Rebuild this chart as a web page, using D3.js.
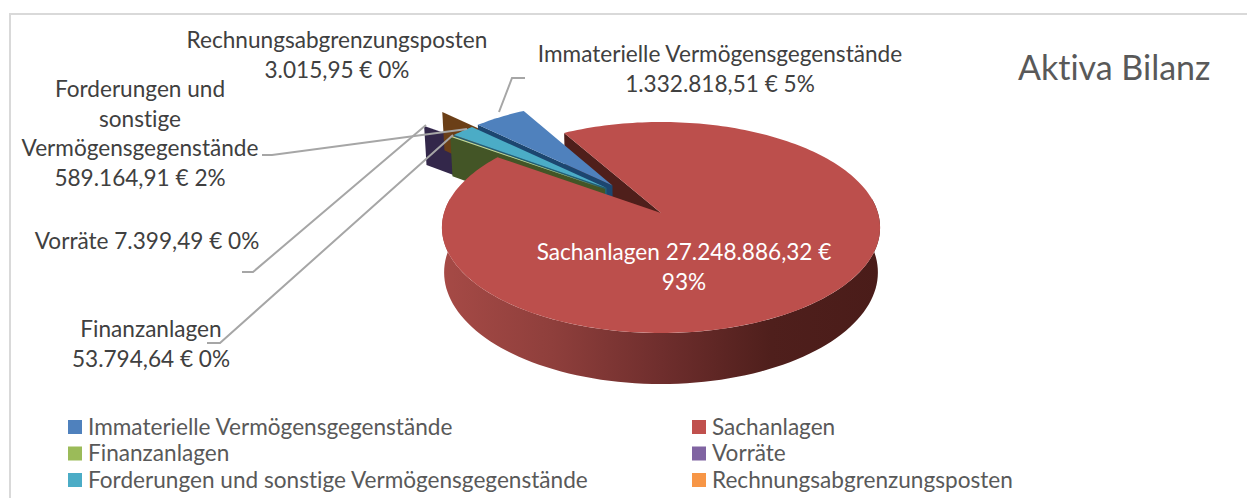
<!DOCTYPE html>
<html lang="de">
<head>
    <meta charset="UTF-8">
    <title>Aktiva Bilanz</title>
    <script src="https://d3js.org/d3.v7.min.js"></script>
    <style>
        html, body { margin: 0; background: #fff; }
        svg { display: block; }
        text { font-family: Lato, "Open Sans", sans-serif; font-variant-ligatures: none; }
    </style>
</head>
<body>
    <div id="chart"></div>

    <script>
        var categories = [
            "Immaterielle Vermögensgegenstände",
            "Sachanlagen",
            "Finanzanlagen",
            "Vorräte",
            "Forderungen und sonstige Vermögensgegenstände",
            "Rechnungsabgrenzungsposten"
        ];
        var values = [1332818.51, 27248886.32, 53794.64, 7399.49, 589164.91, 3015.95];
        var title = "Aktiva Bilanz";

        var legendColors = ["#4f81bd", "#c0504d", "#9bbb59", "#8064a2", "#4bacc6", "#f79646"];
        var topColors = ["#4f81bd", "#bc4f4c", "#c9d98f", "#5f4a80", "#4bacc6", "#8a5220"];
        var wallColors = ["#1c4670", "#4f1f1b", "#435526", "#33274a", "#235f70", "#6b3f17"];
        var explosion = [0.18, 0.18, 0.18, 0.38, 0.18, 0.44];

        var width = 1247;
        var height = 498;
        var fontSize = 22.6;

        // perspective disc: origin is the tip of the big slice, radius 1
        var originX = 661, originY = 213, scaleU = 217, scaleV = 103.5, persp = 0.1374, depth = 44;
        function project(u, v) {
            var w = 1 - persp * v;
            return [originX + scaleU * u / w, originY + scaleV * v / w];
        }
        function lower(u, v) {
            var p = project(u, v);
            // bottom face is further away, so slightly narrower
            return [originX + (p[0] - originX) * 0.99, p[1] + depth / (1 - persp * v)];
        }

        var pie = d3.pie().sort(null).startAngle(-0.8095).endAngle(-0.8095 + 2 * Math.PI);
        var arcs = pie(values);

        // big slice stays at origin, the rest is measured from the common centre
        var big = arcs[1];
        var bigMid = (big.startAngle + big.endAngle) / 2;
        var commonU = -explosion[1] * Math.sin(bigMid);
        var commonV = explosion[1] * Math.cos(bigMid);

        var line = d3.line();
        function centre(i) {
            var mid = (arcs[i].startAngle + arcs[i].endAngle) / 2;
            return [commonU + explosion[i] * Math.sin(mid), commonV - explosion[i] * Math.cos(mid)];
        }
        function rimPoint(i, a) {
            var c = centre(i);
            return [c[0] + Math.sin(a), c[1] - Math.cos(a)];
        }
        function topPath(i) {
            var c = centre(i);
            var n = Math.max(2, Math.ceil((arcs[i].endAngle - arcs[i].startAngle) * 40));
            var pts = [project(c[0], c[1])];
            d3.range(n + 1).forEach(function (k) {
                var a = arcs[i].startAngle + (arcs[i].endAngle - arcs[i].startAngle) * k / n;
                var r = rimPoint(i, a);
                pts.push(project(r[0], r[1]));
            });
            return line(pts) + "Z";
        }
        function wallPath(i) {
            var c = centre(i);
            var r = rimPoint(i, arcs[i].startAngle);
            return line([project(r[0], r[1]), lower(r[0], r[1]), lower(c[0], c[1]), project(c[0], c[1])]) + "Z";
        }
        function rimPath(i) {
            var angles = d3.range(82, 278.5, 2).map(function (d) { return d * Math.PI / 180; });
            var up = angles.map(function (a) { var r = rimPoint(i, a); return project(r[0], r[1]); });
            var down = angles.slice().reverse().map(function (a) { var r = rimPoint(i, a); return lower(r[0], r[1]); });
            return line(up.concat(down)) + "Z";
        }

        var svg = d3.select("#chart").append("svg")
            .attr("width", width)
            .attr("height", height)
            .style("background", "#fff");

        // chart frame, only top and left are in the picture
        svg.append("path")
            .attr("d", "M10,498V14H1247")
            .attr("fill", "none")
            .attr("stroke", "#d9d9d9")
            .attr("stroke-width", 2);

        var grad = svg.append("defs").append("linearGradient")
            .attr("id", "rimGrad")
            .attr("gradientUnits", "userSpaceOnUse")
            .attr("x1", originX - scaleU * 1.01).attr("x2", originX + scaleU * 1.01)
            .attr("y1", 0).attr("y2", 0);
        grad.append("stop").attr("offset", "0").attr("stop-color", "#a64a46");
        grad.append("stop").attr("offset", "0.25").attr("stop-color", "#8f3f3c");
        grad.append("stop").attr("offset", "0.5").attr("stop-color", "#6f2e2d");
        grad.append("stop").attr("offset", "0.75").attr("stop-color", "#4f1f1c");
        grad.append("stop").attr("offset", "1").attr("stop-color", "#4a1c19");

        // painter order, back to front
        var wallOrder = [1, 3, 5, 0, 4, 2];
        var topOrder = [3, 5, 0, 2, 4];

        svg.selectAll("path.wall")
            .data(wallOrder)
            .enter().append("path")
                .attr("class", "wall")
                .attr("d", function (i) { return wallPath(i); })
                .attr("fill", function (i) { return wallColors[i]; });

        svg.selectAll("path.top")
            .data(topOrder)
            .enter().append("path")
                .attr("class", "top")
                .attr("d", function (i) { return topPath(i); })
                .attr("fill", function (i) { return topColors[i]; });

        svg.append("path").attr("d", rimPath(1)).attr("fill", "url(#rimGrad)");
        svg.append("path").attr("d", topPath(1)).attr("fill", topColors[1]);

        // leader lines
        var leaders = [
            [[525, 78], [512, 78], [499, 112]],
            [[262, 155], [272, 155], [467, 129]],
            [[242, 272], [253, 272], [426, 125]],
            [[207, 343], [220, 343], [453, 135]]
        ];
        svg.selectAll("path.leader")
            .data(leaders)
            .enter().append("path")
                .attr("class", "leader")
                .attr("d", line)
                .attr("fill", "none")
                .attr("stroke", "#a6a6a6")
                .attr("stroke-width", 2);

        // data labels
        var labelLines = [
            { x: 337, y: 48, lines: ["Rechnungsabgrenzungsposten", "3.015,95 € 0%"] },
            { x: 720, y: 62, lines: ["Immaterielle Vermögensgegenstände", "1.332.818,51 € 5%"] },
            { x: 140, y: 97, lines: ["Forderungen und", "sonstige", "Vermögensgegenstände", "589.164,91 € 2%"] },
            { x: 147, y: 249, lines: ["Vorräte 7.399,49 € 0%"] },
            { x: 151, y: 337, lines: ["Finanzanlagen", "53.794,64 € 0%"] },
            { x: 684, y: 260, lines: ["Sachanlagen 27.248.886,32 €", "93%"], color: "#fff" }
        ];
        labelLines.forEach(function (l) {
            l.lines.forEach(function (t, k) {
                svg.append("text")
                    .attr("x", l.x)
                    .attr("y", l.y + k * 29.5)
                    .attr("text-anchor", "middle")
                    .attr("font-size", fontSize)
                    .attr("fill", l.color || "#404040")
                    .text(t);
            });
        });

        svg.append("text")
            .attr("x", 1018)
            .attr("y", 80)
            .attr("font-size", 34)
            .attr("font-weight", 400)
            .attr("fill", "#595959")
            .text(title);

        // legend, two columns filled row by row
        var legend = svg.selectAll("g.legend")
            .data(categories)
            .enter().append("g")
                .attr("class", "legend")
                .attr("transform", function (d, i) {
                    return "translate(" + (i % 2 ? 692 : 68) + "," + (427 + Math.floor(i / 2) * 26.5) + ")";
                });
        legend.append("rect")
            .attr("y", -7).attr("width", 14).attr("height", 14)
            .attr("fill", function (d, i) { return legendColors[i]; });
        legend.append("text")
            .attr("x", 20).attr("y", 7.5)
            .attr("font-size", fontSize)
            .attr("fill", "#595959")
            .text(function (d) { return d; });
    </script>
</body>
</html>
